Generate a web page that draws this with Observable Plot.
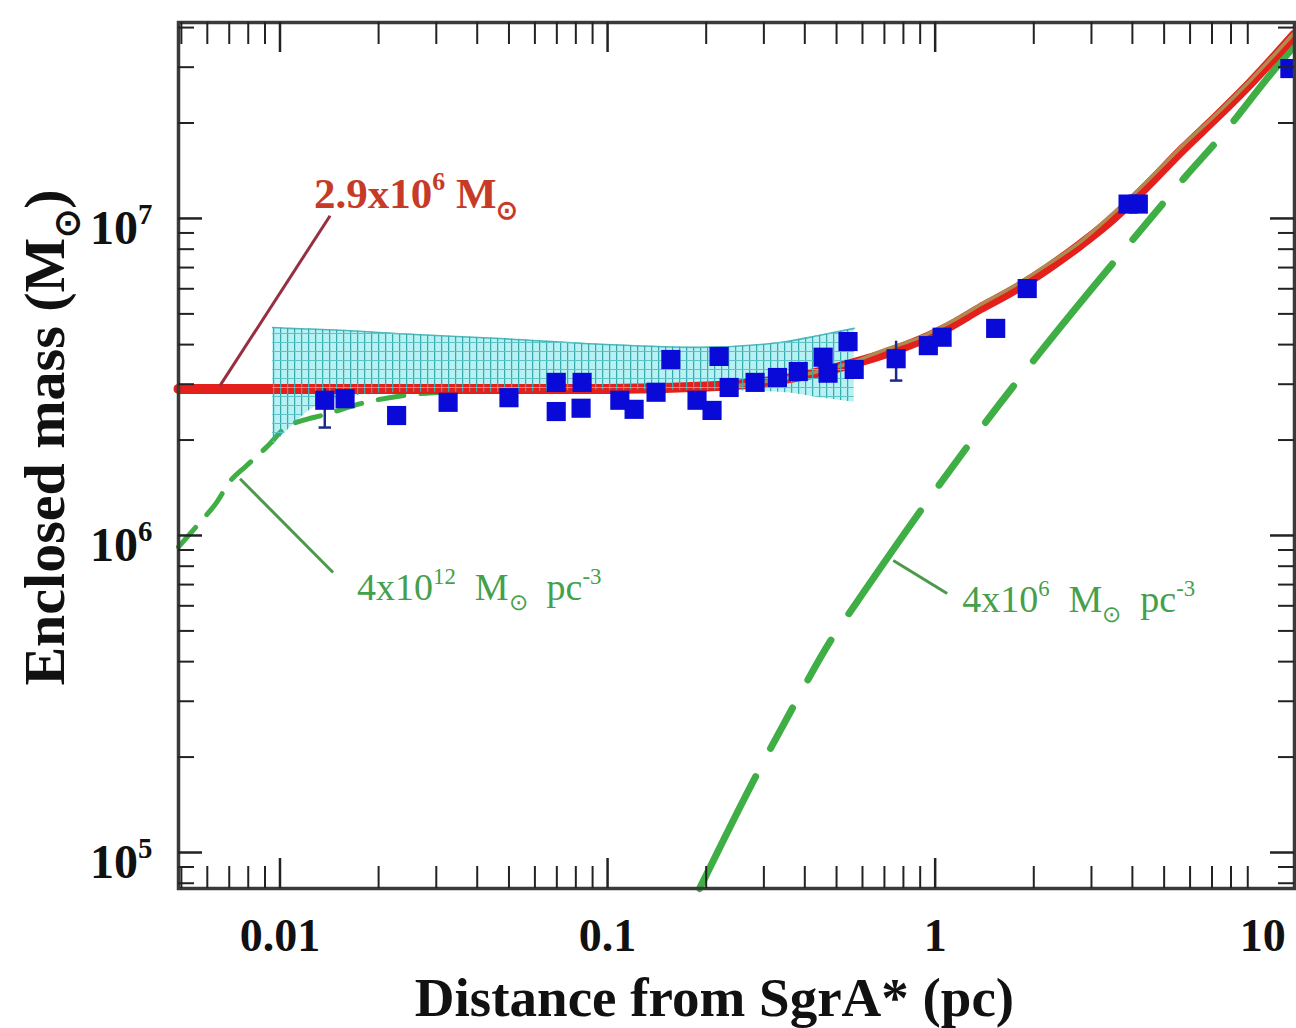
<!DOCTYPE html>
<html><head><meta charset="utf-8">
<script src="https://cdn.jsdelivr.net/npm/d3@7"></script>
<script src="https://cdn.jsdelivr.net/npm/@observablehq/plot@0.6"></script>
<style>
body{margin:0;background:#fff;}
#chart svg{display:block;}
</style></head><body><div id="chart"></div>
<script>
// ---------- data ----------
// measured enclosed masses (blue squares)
const pointR = [0.0137,0.0158,0.0227,0.0326,0.050,0.0697,0.0697,0.0836,0.0830,0.109,0.1205,0.1406,0.156,0.1875,0.2084,0.2189,0.235,0.282,0.330,0.382,0.455,0.471,0.542,0.566,0.760,0.953,1.05,1.53,1.91,3.88,4.17,12.1];
const pointM = [2.67e6,2.70e6,2.39e6,2.63e6,2.72e6,3.04e6,2.46e6,3.04e6,2.52e6,2.67e6,2.50e6,2.83e6,3.59e6,2.67e6,2.48e6,3.67e6,2.93e6,3.04e6,3.15e6,3.29e6,3.65e6,3.25e6,4.09e6,3.34e6,3.61e6,3.97e6,4.22e6,4.50e6,6.01e6,1.11e7,1.11e7,2.97e7];
// visible error bars
const errR = [0.0137,0.760];
const errLo = [2.19e6,3.08e6];
const errHi = [2.90e6,4.10e6];
// hatched uncertainty band
const bandR  = [0.0095,0.0107,0.0123,0.0152,0.0232,0.0469,0.095,0.19,0.336,0.445,0.566];
const bandHi = [4.53e6,4.50e6,4.48e6,4.44e6,4.33e6,4.18e6,4.01e6,3.92e6,4.06e6,4.28e6,4.50e6];
const bandLo = [1.92e6,2.18e6,2.48e6,2.70e6,2.83e6,2.83e6,2.87e6,2.87e6,2.83e6,2.72e6,2.63e6];
// point mass + cluster model (red)
const redR = [0.0049,0.1,0.2,0.3,0.4,0.5,0.68,0.857,1.09,1.37,1.73,2.2,2.77,3.49,4.31,5.72,7.26,9.16,12.5];
const redM = [2.9e6,2.9e6,2.95e6,3.05e6,3.2e6,3.38e6,3.7e6,4.04e6,4.53e6,5.2e6,5.93e6,6.95e6,8.25e6,1.0e7,1.23e7,1.66e7,2.1e7,2.67e7,3.8e7];
// second model (tan)
const tanR = [0.25,0.4,0.55,0.7,0.9,1.1,1.4,1.75,2.2,2.8,3.5,4.3,5.7,7.3,9.2,12.5];
const tanM = [2.97e6,3.22e6,3.5e6,3.85e6,4.22e6,4.68e6,5.4e6,6.15e6,7.15e6,8.5e6,1.04e7,1.27e7,1.7e7,2.16e7,2.74e7,3.86e7];
// 4x10^6 Msun pc^-3 cluster (green long dashes)
const clR = [0.191,0.276,0.361,0.484,0.562,0.966,1.40,2.09,4.76,5.79,7.41,10.8,12.5];
const clM = [7.7e4,1.65e5,2.77e5,4.73e5,5.93e5,1.32e6,2.22e6,3.78e6,1.06e7,1.35e7,1.80e7,2.93e7,3.5e7];
// 4x10^12 Msun pc^-3 dense cluster (green short dashes)
const dnR = [0.0049,0.0057,0.0064,0.0070,0.0079,0.0091,0.0104,0.0118,0.0134,0.018,0.025,0.04,0.07,0.12,0.2,0.3];
const dnM = [9.2e5,1.10e6,1.27e6,1.47e6,1.66e6,1.90e6,2.19e6,2.31e6,2.39e6,2.62e6,2.78e6,2.86e6,2.9e6,2.9e6,2.92e6,3.0e6];
// annotations
const noteText  = ["2.9x10^{6} M_{⊙}", "4x10^{12}  M_{⊙}  pc^{-3}", "4x10^{6}  M_{⊙}  pc^{-3}"];
const noteR     = [0.01270, 0.01718, 1.209];
const noteM     = [1.08e7, 6.24e5, 5.72e5];
const noteColor = ["#c63a28", "#45a04c", "#45a04c"];
const noteWeight = ["bold", "normal", "normal"];
const pointerR1 = [0.00656, 0.00755, 0.745];
const pointerM1 = [2.97e6, 1.51e6, 8.34e5];
const pointerR2 = [0.01422, 0.01452, 1.088];
const pointerM2 = [1.02e7, 7.64e5, 6.56e5];
const pointerColor = ["#962f3f", "#4a9a4a", "#4a9a4a"];
// axes
const xTickValues = [0.01, 0.1, 1, 10];
const xTickLabels = ["0.01", "0.1", "1", "10"];
const yTickValues = [1e5, 1e6, 1e7];
const yTickLabels = ["10^{5}", "10^{6}", "10^{7}"];
const xTitle = "Distance from SgrA* (pc)";
const yTitle = "Enclosed mass (M_{⊙})";

// ---------- layout ----------
const W = 1296, H = 1028, mL = 178, mR = 2, mT = 22, mB = 140;
const pW = W - mL - mR, pH = H - mT - mB;
const FONT = "'Liberation Serif','Times New Roman',Times,serif";

const xMinor = [], yMinor = [];
for (let e = -3; e <= 1; e++) for (let k = 2; k <= 9; k++) { const v = k * 10 ** e; if (v >= 0.0049 && v <= 12.5) xMinor.push(v); }
for (let e = 4; e <= 7; e++) for (let k = 2; k <= 9; k++) { const v = k * 10 ** e; if (v >= 7.7e4 && v <= 4.15e7) yMinor.push(v); }

const idx = n => d3.range(n);
const capSymbol = {draw(ctx, size) { const w = Math.sqrt(size) / 2; ctx.moveTo(-w, 0); ctx.lineTo(w, 0); }};

const marks = [
  // band fill (under lines)
  Plot.areaY(idx(bandR.length), {x: i => bandR[i], y1: i => bandLo[i], y2: i => bandHi[i], fill: "#b0f0f3", fillOpacity: 0.9, curve: "monotone-x"}),
  Plot.line(idx(bandR.length), {x: i => bandR[i], y: i => bandHi[i], stroke: "#50b8ba", strokeWidth: 1.6, curve: "monotone-x"}),
  // dense cluster (green short dashes)
  Plot.line(idx(dnR.length), {x: i => dnR[i], y: i => dnM[i], stroke: "#3fae45", strokeWidth: 5, strokeDasharray: "26,17", curve: "monotone-x"}),
  // 4e6 cluster (green long dashes)
  Plot.line(idx(clR.length), {x: i => clR[i], y: i => clM[i], stroke: "#3fae45", strokeWidth: 7, strokeDasharray: "125,32,46,32,46,32", curve: "monotone-x"}),
  // red model
  Plot.line(idx(redR.length), {x: i => redR[i], y: i => redM[i], stroke: "#e3201b", strokeWidth: 10, curve: "monotone-x"}),
  // tan model
  Plot.line(idx(tanR.length), {x: i => tanR[i], y: i => tanM[i], stroke: "#b08a4e", strokeWidth: 3.5, curve: "monotone-x"}),
  // hatch over the lines
  Plot.areaY(idx(bandR.length), {x: i => bandR[i], y1: i => bandLo[i], y2: i => bandHi[i], fill: "url(#hatch)", curve: "monotone-x"}),
  // error bars
  Plot.ruleX(idx(errR.length), {x: i => errR[i], y1: i => errLo[i], y2: i => errHi[i], stroke: "#1c2a8c", strokeWidth: 2.5}),
  Plot.dot(idx(errR.length), {x: i => errR[i], y: i => errLo[i], symbol: capSymbol, r: 7, stroke: "#1c2a8c", strokeWidth: 2.5, fill: "none"}),
  // data points
  Plot.dot(idx(pointR.length), {x: i => pointR[i], y: i => pointM[i], symbol: "square", r: 10.8, fill: "#0a0ad8", stroke: "none"}),
  // pointers
  Plot.link(idx(pointerR1.length), {x1: i => pointerR1[i], y1: i => pointerM1[i], x2: i => pointerR2[i], y2: i => pointerM2[i], stroke: i => pointerColor[i], strokeWidth: 3}),
  // frame & ticks
  Plot.frame({stroke: "#3a3a3a", strokeWidth: 3.5}),
  Plot.ruleX(xTickValues.slice(0, 3), {x: d => d, insetTop: pH - 30, stroke: "#222", strokeWidth: 2.5}),
  Plot.ruleX(xTickValues.slice(0, 3), {x: d => d, insetBottom: pH - 30, stroke: "#222", strokeWidth: 2.5}),
  Plot.ruleX(xMinor, {x: d => d, insetTop: pH - 22, stroke: "#222", strokeWidth: 2}),
  Plot.ruleX(xMinor, {x: d => d, insetBottom: pH - 22, stroke: "#222", strokeWidth: 2}),
  Plot.ruleY(yTickValues, {y: d => d, insetRight: pW - 24, stroke: "#222", strokeWidth: 2.5}),
  Plot.ruleY(yTickValues, {y: d => d, insetLeft: pW - 24, stroke: "#222", strokeWidth: 2.5}),
  Plot.ruleY(yMinor, {y: d => d, insetRight: pW - 16, stroke: "#222", strokeWidth: 2}),
  Plot.ruleY(yMinor, {y: d => d, insetLeft: pW - 16, stroke: "#222", strokeWidth: 2}),
  // axes labels
  Plot.axisX(xTickValues, {tickSize: 0, tickPadding: 30, tickFormat: d => xTickLabels[xTickValues.indexOf(d)], fontSize: 46, fontWeight: "bold", fontFamily: FONT, fill: "#111", label: null}),
  Plot.axisY(yTickValues, {tickSize: 0, tickPadding: 26, dy: 10, tickFormat: d => yTickLabels[yTickValues.indexOf(d)], fontSize: 48, fontWeight: "bold", fontFamily: FONT, fill: "#111", label: null}),
  Plot.text([xTitle], {frameAnchor: "bottom", dx: -22, dy: 127, text: d => d, textAnchor: "middle", lineAnchor: "bottom", fontSize: 55, fontWeight: "bold", fontFamily: FONT, fill: "#111"}),
  Plot.text([yTitle], {frameAnchor: "left", dx: -133, dy: -18, rotate: -90, text: d => d, textAnchor: "middle", lineAnchor: "middle", fontSize: 58, fontWeight: "bold", fontFamily: FONT, fill: "#111"})
];
noteText.forEach((t, i) => {
  marks.push(Plot.text([i], {x: () => noteR[i], y: () => noteM[i], text: () => noteText[i], textAnchor: "start", lineAnchor: "bottom", fontSize: i === 0 ? 43 : 38, fontWeight: noteWeight[i], fontFamily: FONT, fill: noteColor[i]}));
});

const chart = Plot.plot({
  width: W, height: H,
  marginLeft: mL, marginRight: mR, marginTop: mT, marginBottom: mB,
  x: {type: "log", domain: [0.0049, 12.5], axis: null},
  y: {type: "log", domain: [7.7e4, 4.15e7], axis: null},
  style: {background: "#fff", fontFamily: FONT},
  marks
});
document.getElementById("chart").appendChild(chart);

chart.insertAdjacentHTML("afterbegin",
  `<defs><pattern id="hatch" patternUnits="userSpaceOnUse" width="7" height="9">
     <path d="M0.6,0V9" stroke="#3aa9ad" stroke-width="1.3"/>
     <path d="M0,0.5H7" stroke="#5cc3c6" stroke-width="1"/>
   </pattern></defs>`);

// rich text: ^{...} superscripts and _{...} subscripts
const NS = "http://www.w3.org/2000/svg";
chart.querySelectorAll("text").forEach(t => {
  const s = t.textContent;
  if (!/[\^_]\{/.test(s)) return;
  const fs = parseFloat(getComputedStyle(t).fontSize) || 16;
  const parts = []; const re = /(\^|_)\{([^}]*)\}/g; let last = 0, m;
  while ((m = re.exec(s))) {
    if (m.index > last) parts.push(["n", s.slice(last, m.index)]);
    parts.push([m[1] === "^" ? "sup" : "sub", m[2]]);
    last = re.lastIndex;
  }
  if (last < s.length) parts.push(["n", s.slice(last)]);
  while (t.firstChild) t.removeChild(t.firstChild);
  let cur = 0;
  for (const [k, txt] of parts) {
    const ts = document.createElementNS(NS, "tspan");
    const target = k === "sup" ? -0.42 * fs : k === "sub" ? 0.25 * fs : 0;
    if (target - cur !== 0) ts.setAttribute("dy", target - cur);
    cur = target;
    if (k !== "n") ts.setAttribute("font-size", (0.6 * fs).toFixed(1));
    ts.textContent = txt;
    t.appendChild(ts);
  }
  t.setAttribute("style", (t.getAttribute("style") || "") + ";white-space:pre");
});
</script></body></html>
